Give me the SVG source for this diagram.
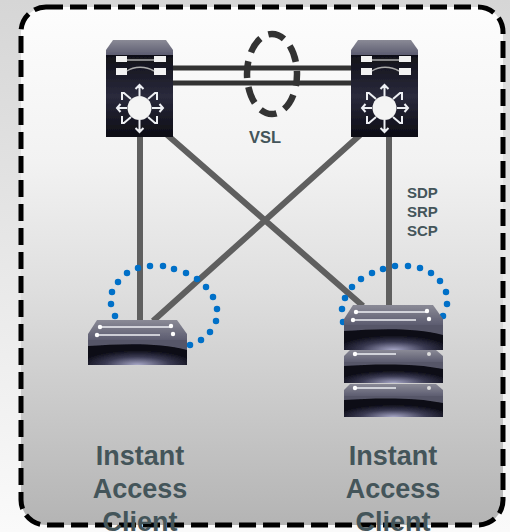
<svg xmlns="http://www.w3.org/2000/svg" width="510" height="532" viewBox="0 0 510 532">
<style>
.link{stroke:#5f5f5f;stroke-width:6;fill:none}
.vsl{stroke:#333;stroke-width:5;fill:none}
.vslring{stroke:#333;stroke-width:6.500;fill:none;stroke-dasharray:17 9;stroke-dashoffset:5}
.ring{stroke:#0070c8;stroke-width:6.500;stroke-linecap:round;fill:none}
.big{font:bold 27px "Liberation Sans",Arial,sans-serif;fill:#44555a;text-anchor:middle}
.small{font:bold 15px "Liberation Sans",Arial,sans-serif;fill:#44555a}
.arrow{stroke:#eef0f4;stroke-width:2;fill:none}
.soft{filter:url(#blur)}
</style>
<defs>
<filter id="blur" x="-5%" y="-5%" width="110%" height="110%"><feGaussianBlur stdDeviation="0.7"/></filter>
<linearGradient id="out" x1="0" y1="0" x2="0" y2="1"><stop offset="0" stop-color="#d6d6d6"/><stop offset="1" stop-color="#fafafa"/></linearGradient>
<linearGradient id="inn" x1="0" y1="0" x2="0" y2="1"><stop offset="0" stop-color="#fdfdfd"/><stop offset=".3" stop-color="#f2f2f2"/><stop offset=".55" stop-color="#dedede"/><stop offset="1" stop-color="#b4b4b4"/></linearGradient>
<linearGradient id="top" x1="0" y1="0" x2="0" y2="1"><stop offset="0" stop-color="#8a8a96"/><stop offset="1" stop-color="#5c5c70"/></linearGradient>
<linearGradient id="body" x1="0" y1="0" x2="0" y2="1"><stop offset="0" stop-color="#101018"/><stop offset=".5" stop-color="#2a2a3c"/><stop offset="1" stop-color="#0c0c14"/></linearGradient>
<radialGradient id="glow" cx=".5" cy="1" r=".6" gradientTransform="translate(0 0)"><stop offset="0" stop-color="#a8a8c8"/><stop offset=".55" stop-color="#3a3a52"/><stop offset="1" stop-color="#0a0a14"/></radialGradient>
<g id="core" class="soft">
<path d="M7 0H60L67 10V15H0V10Z" fill="url(#top)"/>
<rect x="0" y="15" width="67" height="82" fill="url(#body)"/>
<path d="M10 16h11v6H10zM48 16h12v6H48zM10 28h11v7H10zM48 28h12v7H48z" fill="#f2f2f2"/>
<path d="M21 20H48M21 31C28 26 40 26 48 31" stroke="#aaa" stroke-width="1.500" fill="none"/>
<circle cx="33.500" cy="68" r="12" fill="#f4f4f4"/>
<path class="arrow" d="M33.500 56V45M29.500 49L33.500 45L37.500 49M33.500 80V92M29.500 88L33.500 92L37.500 88M21 68H11M14.500 64L11 68L14.500 72M46 68H57M53.500 64L57 68L53.500 72M25 59L18 53H16V60M42 59L49 53H51V60M25 77L18 83H16V76M42 77L49 83H51V76"/>
</g>
<g id="sw" class="soft">
<path d="M9 0H89L99 14V20H0V14Z" fill="url(#top)"/>
<path d="M12 7H82M9 15H72" stroke="#eef0f4" stroke-width="1.500" fill="none"/>
<circle cx="12" cy="7" r="2.200" fill="#fff"/><circle cx="9" cy="15" r="2.200" fill="#fff"/><circle cx="83" cy="6" r="2.200" fill="#fff"/><circle cx="85" cy="14" r="2.200" fill="#fff"/>
<rect y="20" width="99" height="25" fill="url(#glow)"/>
<path d="M0 20H99V30C70 22 30 24 0 26Z" fill="#6a6a7c" opacity=".8"/>
</g>
<g id="sw2" class="soft">
<path d="M6 0H92L99 6V12H0V6Z" fill="url(#top)"/>
<path d="M10 4H52" stroke="#eef0f4" stroke-width="1.500" fill="none"/>
<circle cx="11" cy="4" r="2.200" fill="#fff"/><circle cx="85" cy="4" r="2" fill="#ddd"/>
<rect y="12" width="99" height="21" fill="url(#glow)"/>
<path d="M0 12H99V19C70 13 30 14 0 16Z" fill="#6a6a7c" opacity=".8"/>
</g>
</defs>
<rect width="510" height="532" fill="url(#out)"/>
<rect x="21" y="7" width="482" height="518" rx="25" fill="url(#inn)"/>
<g id="connectors">
<path class="link" d="M140 135V321M165 133L363 306M360 135L153 321M389 135V307"/>
<path class="vsl" d="M173 68H353M173 83H353"/>
</g>
<g id="vsl-ring"><ellipse cx="272" cy="74" rx="25" ry="40" class="vslring"/><text x="265" y="143" class="small" text-anchor="middle" style="font-size:16.500px">VSL</text></g>
<g id="core-left"><use href="#core" x="106" y="40"/></g>
<g id="core-right"><use href="#core" x="351" y="40"/></g>
<g id="ring-left"><path class="ring" d="M115 316h0M111 304h0M112 292h0M118 282h0M127 273h0M138 268h0M150 266h0M163 266h0M174 269h0M186 273h0M197 279h0M206 287h0M213 297h0M217 309h0M216 321h0M210 332h0M201 340h0M190 345h0"/></g>
<g id="ring-right"><path class="ring" d="M343 322h0M342 309h0M345 298h0M352 287h0M361 279h0M372 273h0M383 269h0M395 266h0M408 266h0M420 268h0M431 273h0M440 281h0M446 292h0M447 304h0M443 316h0"/></g>
<g id="client-left"><use href="#sw" x="88" y="320"/></g>
<g id="client-right">
<use href="#sw" x="344" y="305"/>
<use href="#sw2" x="344" y="350"/>
<use href="#sw2" x="344" y="384"/>
</g>
<text x="407" y="198" class="small">SDP</text>
<text x="407" y="217" class="small">SRP</text>
<text x="407" y="236" class="small">SCP</text>
<g id="frame"><rect x="21" y="7" width="482" height="518" rx="25" fill="none" stroke="#000" stroke-width="5" stroke-dasharray="17 7"/></g>
<g id="label-left"><text x="140" y="465" class="big">Instant</text><text x="140" y="498" class="big">Access</text><text x="140" y="531" class="big">Client</text></g>
<g id="label-right"><text x="393" y="465" class="big">Instant</text><text x="393" y="498" class="big">Access</text><text x="393" y="531" class="big">Client</text></g>
</svg>
